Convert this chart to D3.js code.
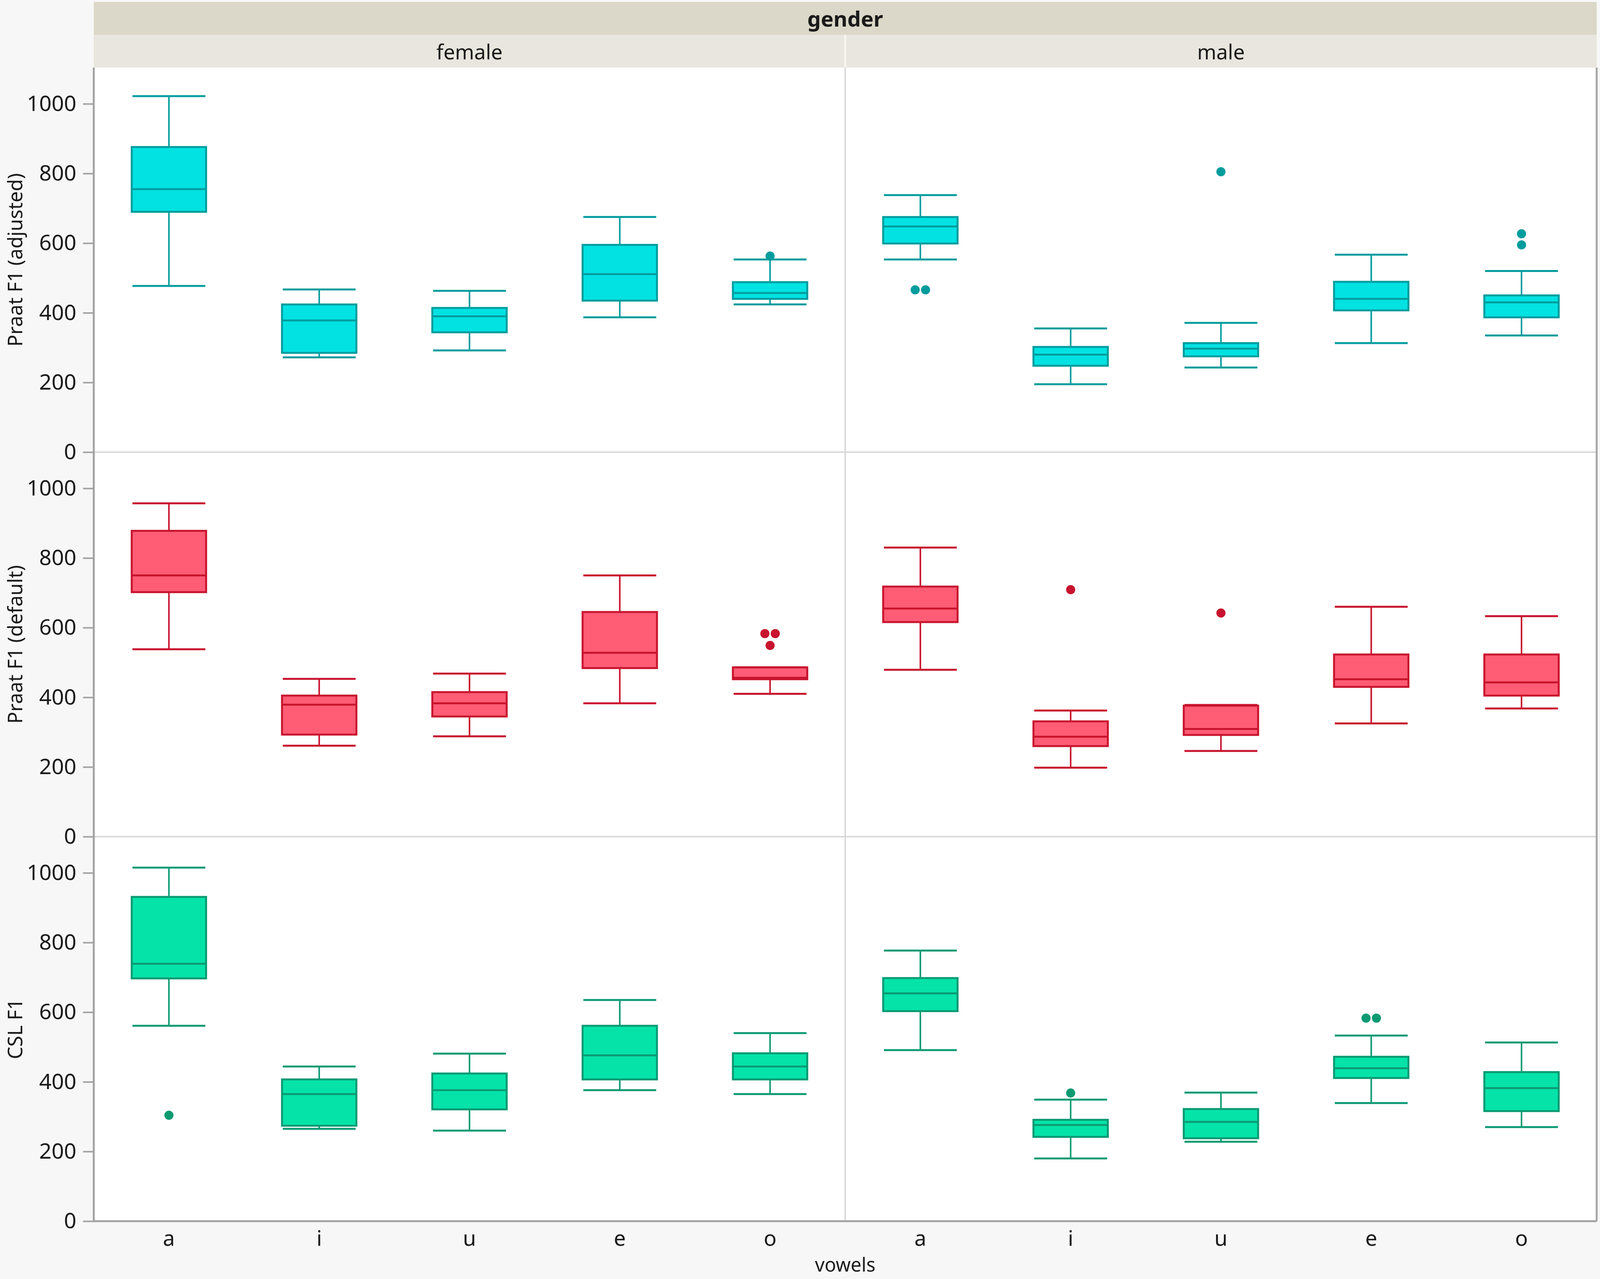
<!DOCTYPE html>
<html>
<head>
<meta charset="utf-8">
<script src="https://cdn.jsdelivr.net/npm/d3@7"></script>
<style>
  html, body { margin: 0; padding: 0; background: #f7f7f7; overflow: hidden; width: 100%; height: 100%; }
  text { font-family: "Noto Sans", "Open Sans", sans-serif; fill: #1a1a1a; }
</style>
</head>
<body>
<div id="chart"></div>
<script>
'use strict';

// categories
const vowels = ["a", "i", "u", "e", "o"];
const genders = ["female", "male"];
const measures = ["Praat F1 (adjusted)", "Praat F1 (default)", "CSL F1"];
const majorTicks = [0, 200, 400, 600, 800, 1000];
const minorTicks = [100, 300, 500, 700, 900, 1100];

// box stats per vowel: [lower whisker, Q1, median, Q3, upper whisker]
const adjustedFemale = [[477, 690, 755, 876, 1022], [272, 285, 378, 424, 467], [292, 344, 390, 414, 463], [387, 435, 511, 595, 675], [424, 440, 457, 488, 553]];
const adjustedMale   = [[553, 599, 648, 675, 738], [195, 248, 280, 302, 355], [243, 275, 297, 313, 371], [313, 407, 440, 489, 567], [335, 387, 430, 450, 520]];
const defaultFemale  = [[538, 702, 750, 878, 957], [261, 293, 379, 405, 453], [288, 345, 383, 415, 468], [383, 484, 528, 645, 750], [410, 452, 456, 486, 486]];
const defaultMale    = [[479, 616, 655, 718, 830], [198, 260, 287, 331, 362], [246, 292, 309, 376, 378], [325, 430, 452, 523, 660], [368, 405, 443, 523, 633]];
const cslFemale      = [[561, 697, 739, 931, 1015], [265, 274, 365, 407, 444], [260, 321, 376, 424, 481], [376, 407, 476, 561, 635], [365, 407, 444, 482, 540]];
const cslMale        = [[491, 603, 654, 698, 777], [180, 242, 276, 291, 349], [228, 238, 285, 322, 369], [339, 411, 439, 472, 533], [270, 316, 382, 428, 513]];

// outliers per vowel
const adjustedFemaleOut = [[], [], [], [], [563]];
const adjustedMaleOut   = [[466, 466], [], [805], [], [627, 595]];
const defaultFemaleOut  = [[], [], [], [], [583, 583, 549]];
const defaultMaleOut    = [[], [709], [642], [], []];
const cslFemaleOut      = [[304], [], [], [], []];
const cslMaleOut        = [[], [368], [], [583, 583], []];

const boxStats = [[adjustedFemale, adjustedMale], [defaultFemale, defaultMale], [cslFemale, cslMale]];
const outStats = [[adjustedFemaleOut, adjustedMaleOut], [defaultFemaleOut, defaultMaleOut], [cslFemaleOut, cslMaleOut]];

const palette = [
    { fill: "#02e2e2", stroke: "#039c9e" },
    { fill: "#ff5c75", stroke: "#c8142e" },
    { fill: "#05e3a9", stroke: "#0c9a73" }
];

// layout is measured on a 4317 x 3273 frame and stretched to the real viewport
const refW = 4317, refH = 3273;
const vw = window.innerWidth || refW, vh = window.innerHeight || refH;
const X = d3.scaleLinear().domain([0, refW]).range([0, vw]);
const Y = d3.scaleLinear().domain([0, refH]).range([0, vh]);
const sx = vw / refW, sy = vh / refH;
const F = v => v * (sx + sy) / 2;

const plotLeft = X(253), plotRight = X(4308), plotTop = Y(173), plotBottom = Y(3125);
const rowH = (plotBottom - plotTop) / measures.length;
const colW = (plotRight - plotLeft) / genders.length;

const svg = d3.select("#chart").append("svg")
    .attr("width", vw)
    .attr("height", vh)
    .style("display", "block");

svg.append("rect").attr("width", vw).attr("height", vh).attr("fill", "#f7f7f7");

// header bands
svg.append("rect").attr("x", plotLeft).attr("y", Y(5)).attr("width", plotRight - plotLeft).attr("height", Y(84)).attr("fill", "#dbd8c9");
svg.append("rect").attr("x", plotLeft).attr("y", Y(89)).attr("width", plotRight - plotLeft).attr("height", plotTop - Y(89)).attr("fill", "#e8e6de");
svg.append("line").attr("x1", plotLeft + colW).attr("x2", plotLeft + colW).attr("y1", Y(89)).attr("y2", plotTop)
    .attr("stroke", "#f6f5f0").attr("stroke-width", 5);

svg.append("text")
    .attr("x", (plotLeft + plotRight) / 2).attr("y", Y(47))
    .attr("text-anchor", "middle").attr("dominant-baseline", "central")
    .attr("font-size", F(56)).attr("font-weight", "bold")
    .text("gender");

genders.forEach((g, c) => {
    svg.append("text")
        .attr("x", plotLeft + colW * c + colW / 2).attr("y", Y(131))
        .attr("text-anchor", "middle").attr("dominant-baseline", "central")
        .attr("font-size", F(54))
        .text(g);
});

// plot background
svg.append("rect").attr("x", plotLeft).attr("y", plotTop).attr("width", plotRight - plotLeft).attr("height", plotBottom - plotTop).attr("fill", "#ffffff");

// separators
d3.range(1, measures.length).forEach(r => {
    svg.append("line").attr("x1", plotLeft).attr("x2", plotRight)
        .attr("y1", plotTop + rowH * r).attr("y2", plotTop + rowH * r)
        .attr("stroke", "#d9d9d9").attr("stroke-width", 4);
});
svg.append("line").attr("x1", plotLeft + colW).attr("x2", plotLeft + colW)
    .attr("y1", plotTop).attr("y2", plotBottom)
    .attr("stroke", "#d9d9d9").attr("stroke-width", 4);

const xBand = d3.scaleBand().domain(vowels).range([0, colW]);
const boxW = xBand.bandwidth() * 0.495;
const capW = xBand.bandwidth() * 0.485;

measures.forEach((m, r) => {
    let y = d3.scaleLinear().domain([0, 1104]).range([plotTop + rowH * (r + 1), plotTop + rowH * r]);
    let col = palette[r];

    // y axis
    let axisG = svg.append("g").attr("transform", `translate(${plotLeft},0)`);
    axisG.call(d3.axisLeft(y).tickValues(minorTicks).tickSize(14 * sx).tickFormat(""));
    axisG.call(d3.axisLeft(y).tickValues(majorTicks).tickSize(29 * sx).tickPadding(18 * sx).tickFormat(d3.format("d")));
    axisG.selectAll(".domain").remove();
    axisG.selectAll(".tick line").attr("stroke", "#a3a3a3").attr("stroke-width", 4);
    axisG.selectAll(".tick text")
        .attr("font-size", F(57))
        .attr("font-family", "'Noto Sans', sans-serif")
        .attr("fill", "#1a1a1a");

    svg.append("text")
        .attr("transform", `translate(${X(40)},${plotTop + rowH * r + rowH / 2}) rotate(-90)`)
        .attr("text-anchor", "middle").attr("dominant-baseline", "central")
        .attr("font-size", F(52))
        .text(m);

    genders.forEach((g, c) => {
        let x0 = plotLeft + colW * c;
        let panel = svg.append("g").attr("transform", `translate(${x0},0)`);
        let stats = boxStats[r][c];
        let outs = outStats[r][c];

        vowels.forEach((v, i) => {
            let [lo, q1, med, q3, hi] = stats[i];
            let cx = xBand(v) + xBand.bandwidth() / 2;
            let bg = panel.append("g");

            bg.append("line").attr("x1", cx).attr("x2", cx).attr("y1", y(hi)).attr("y2", y(q3))
                .attr("stroke", col.stroke).attr("stroke-width", 4);
            bg.append("line").attr("x1", cx).attr("x2", cx).attr("y1", y(q1)).attr("y2", y(lo))
                .attr("stroke", col.stroke).attr("stroke-width", 4);
            [lo, hi].forEach(w => {
                bg.append("line").attr("x1", cx - capW / 2).attr("x2", cx + capW / 2)
                    .attr("y1", y(w)).attr("y2", y(w))
                    .attr("stroke", col.stroke).attr("stroke-width", 5);
            });
            bg.append("rect")
                .attr("x", cx - boxW / 2).attr("width", boxW)
                .attr("y", y(q3)).attr("height", y(q1) - y(q3))
                .attr("fill", col.fill).attr("stroke", col.stroke).attr("stroke-width", 5);
            bg.append("line").attr("x1", cx - boxW / 2).attr("x2", cx + boxW / 2)
                .attr("y1", y(med)).attr("y2", y(med))
                .attr("stroke", col.stroke).attr("stroke-width", 5);

            // outliers: equal values sit side by side
            let groups = d3.groups(outs[i], d => d);
            groups.forEach(([val, list]) => {
                list.forEach((d, k) => {
                    let off = (k - (list.length - 1) / 2) * 28 * sx;
                    bg.append("circle")
                        .attr("cx", cx + off).attr("cy", y(val)).attr("r", F(12))
                        .attr("fill", col.stroke);
                });
            });
        });

        // x axis labels on the last row
        if (r === measures.length - 1) {
            let xAxis = panel.append("g").attr("transform", `translate(0,${plotBottom})`)
                .call(d3.axisBottom(xBand).tickSize(0).tickPadding(24 * sy));
            xAxis.select(".domain").remove();
            xAxis.selectAll(".tick text")
                .attr("font-size", F(56))
                .attr("font-family", "'Noto Sans', sans-serif")
                .attr("fill", "#1a1a1a");
        }
    });
});

// frame lines
svg.append("line").attr("x1", plotLeft).attr("x2", plotLeft).attr("y1", plotTop).attr("y2", plotBottom)
    .attr("stroke", "#a3a3a3").attr("stroke-width", 5);
svg.append("line").attr("x1", plotLeft).attr("x2", plotRight).attr("y1", plotBottom).attr("y2", plotBottom)
    .attr("stroke", "#a3a3a3").attr("stroke-width", 5);
svg.append("line").attr("x1", plotRight).attr("x2", plotRight).attr("y1", plotTop).attr("y2", plotBottom)
    .attr("stroke", "#a8a8a8").attr("stroke-width", 5);

svg.append("text")
    .attr("x", (plotLeft + plotRight) / 2).attr("y", Y(3254))
    .attr("text-anchor", "middle")
    .attr("font-size", F(50))
    .text("vowels");
</script>
</body>
</html>
